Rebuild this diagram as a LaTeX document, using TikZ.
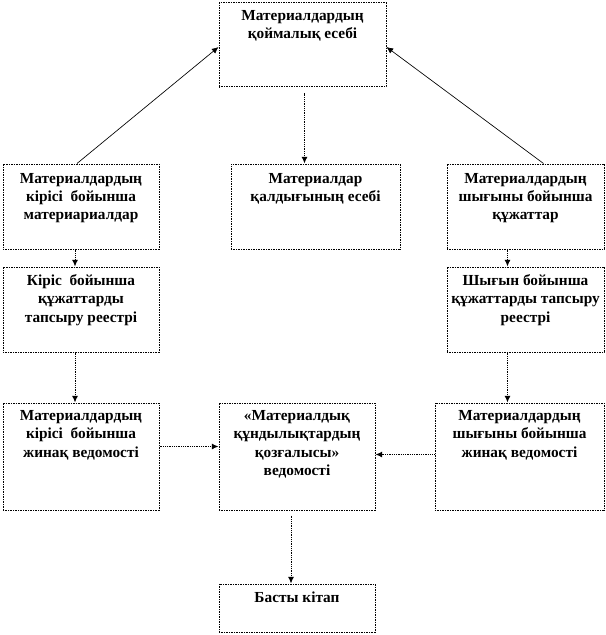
\documentclass[tikz,border=0pt]{standalone}
\usepackage{fontspec}
\setmainfont{Liberation Serif}
\usetikzlibrary{positioning,calc,fit,arrows.meta}

\begin{document}
\begin{tikzpicture}[x=0.75pt,y=-0.75pt,font=\fontsize{11.5}{13.6}\selectfont\bfseries,
	blk/.style={draw,dash pattern=on 0.75pt off 0.5pt,line width=0.75pt,inner sep=0pt},
	lbl/.style={align=center,inner sep=0pt},
	arr/.style={dash pattern=on 0.75pt off 0.6pt,line width=0.75pt,-{Latex[length=5pt,width=4.5pt]}},
	diag/.style={line width=0.5pt,-{Latex[length=5pt,width=4.5pt]}}]
	\useasboundingbox (0,0) rectangle (606,635);

	\node[blk,fit={(219,3) (386,87)}] (kojma) {};
	\node[lbl,below=6pt of kojma.north] (kojmat) {Материалдардың\\қоймалық есебі};

	\node[blk,fit={(3,164) (159,249)}] (kiris) {};
	\node[lbl,below=7pt of kiris.north] (kirist) {Материалдардың\\кірісі\ \ бойынша\\материариалдар};
	\node[blk,fit={(231,164) (400,249)}] (kaldyk) {};
	\node[lbl,below=7pt of kaldyk.north] (kaldykt) {Материалдар\\қалдығының есебі};
	\node[blk,fit={(447,164) (604,249)}] (shygys) {};
	\node[lbl,below=7pt of shygys.north] (shygyst) {Материалдардың\\шығыны бойынша\\құжаттар};

	\node[blk,fit={(3,267) (159,352)}] (kirisreestr) {};
	\node[lbl,below=6pt of kirisreestr.north] (kirisreestrt) {Кіріс\ \ бойынша\\құжаттарды\\тапсыру реестрі};
	\node[blk,fit={(447,267) (604,352)}] (shygysreestr) {};
	\node[lbl,below=6pt of shygysreestr.north] (shygysreestrt) {Шығын бойынша\\құжаттарды тапсыру\\реестрі};

	\node[blk,fit={(3,403) (159,510)}] (kirisjinak) {};
	\node[lbl,below=6pt of kirisjinak.north] (kirisjinakt) {Материалдардың\\кірісі\ \ бойынша\\жинақ ведомості};
	\node[blk,fit={(219,403) (375,510)}] (ved) {};
	\node[lbl,below=6pt of ved.north] (vedt) {«Материалдық\\құндылықтардың\\қозғалысы»\\ведомості};
	\node[blk,fit={(435,403) (604,510)}] (shygysjinak) {};
	\node[lbl,below=6pt of shygysjinak.north] (shygysjinakt) {Материалдардың\\шығыны бойынша\\жинақ ведомості};

	\node[blk,fit={(219,584) (375,632)}] (bas) {};
	\node[lbl,below=6pt of bas.north] (bast) {Басты кітап};

	\draw[diag] ($(kiris.north)+(-4,0)$) -- ($(kojma.west)+(0,2)$);
	\draw[diag] ($(shygys.north)+(18,0)$) -- ($(kojma.east)+(0,2)$);
	\draw[arr] ($(kojma.south)+(2,6)$) -- ($(kojma.south |- kaldyk.north)+(2,0)$);

	\draw[arr] ($(kiris.south)+(-6,0)$) -- ($(kirisreestr.north)+(-6,0)$);
	\draw[arr] ($(kirisreestr.south)+(-6,0)$) -- ($(kirisjinak.north)+(-6,0)$);
	\draw[arr] ($(shygys.south)+(-18,0)$) -- ($(shygysreestr.north)+(-18,0)$);
	\draw[arr] ($(shygysreestr.south)+(-18,0)$) -- ($(shygysreestr.south |- shygysjinak.north)+(-18,0)$);

	\draw[arr] ($(kirisjinak.east)+(0,-10)$) -- ($(ved.west)+(0,-10)$);
	\draw[arr] ($(shygysjinak.west)+(0,-2)$) -- ($(ved.east)+(0,-2)$);
	\draw[arr] ($(ved.south)+(-6,5)$) -- ($(bas.north)+(-6,0)$);
\end{tikzpicture}
\end{document}
